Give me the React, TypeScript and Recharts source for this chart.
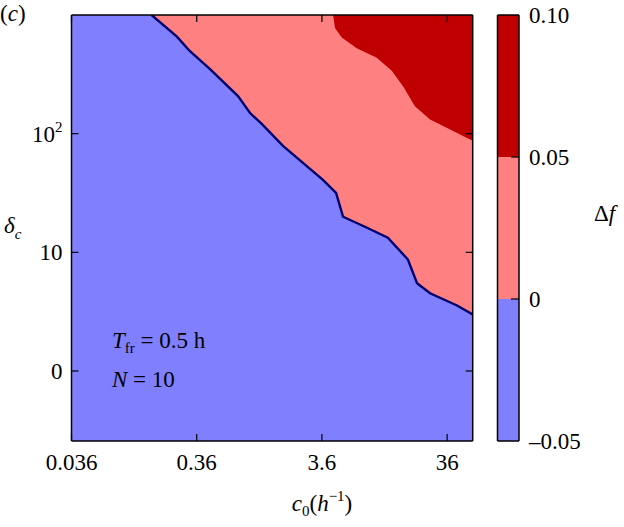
import React from 'react';
import { ComposedChart, Area, XAxis, YAxis, CartesianGrid } from 'recharts';

// axis ticks
const xTicks = [0.036, 0.36, 3.6, 36];
const yTicks = [0, 1, 2];
const yTickLabels = ['0', '10', '10^2'];

// contour Δf = 0 (blue / pink boundary)
const zeroC = [0.157, 0.249, 0.318, 0.46, 0.769, 0.96, 1.19, 1.76, 2.54, 3.67, 4.67, 5.31, 8.25, 12.1, 17.5, 20.7, 26.3, 43.2, 57.6];
const zeroY = [3.0, 2.82, 2.695, 2.544, 2.317, 2.174, 2.082, 1.897, 1.754, 1.61, 1.5, 1.3, 1.207, 1.124, 0.939, 0.739, 0.655, 0.552, 0.476];

// contour Δf = 0.05 (pink / dark red boundary)
const upperC = [4.42, 4.58, 5.18, 6.83, 9.87, 13.0, 16.0, 19.9, 26.3, 35.7, 48.2, 57.6];
const upperY = [3.0, 2.89, 2.81, 2.72, 2.64, 2.53, 2.4, 2.23, 2.12, 2.05, 1.98, 1.94];

// colour bar
const levels = [-0.05, 0, 0.05, 0.1];
const levelLabels = ['\u20130.05', '0', '0.05', '0.10'];
const levelColors = ['#8080ff', '#ff8080', '#c00000'];

const data = [
  ...zeroC.map((c, i) => ({ c, zero: zeroY[i] })),
  ...upperC.map((c, i) => ({ c, upper: upperY[i] })),
].sort((a, b) => a.c - b.c);

const cbData = [{ x: 0 }, { x: 1 }];

const FONT = '"Liberation Serif", "Times New Roman", serif';
const FS = 23;
const SUB = 15;
const txt = { fontFamily: FONT, fontSize: FS };

const BottomTick = (props: any) => {
  const { x, y, payload } = props;
  return (
    <g>
      <line x1={x} y1={y} x2={x} y2={y - 7} stroke="#000" strokeWidth={1.2} />
      <text x={x} y={y + 29} textAnchor="middle" style={txt} fill="#000">
        {payload.value}
      </text>
    </g>
  );
};

const TopTick = (props: any) => {
  const { x, y } = props;
  return <line x1={x} y1={y} x2={x} y2={y + 7} stroke="#000" strokeWidth={1.2} />;
};

const LeftTick = (props: any) => {
  const { x, y, payload } = props;
  const lbl = yTickLabels[yTicks.indexOf(payload.value)] ?? '';
  const sup = lbl.includes('^');
  return (
    <g>
      <line x1={x} y1={y} x2={x + 7} y2={y} stroke="#000" strokeWidth={1.2} />
      <text x={x - 9} y={y + 8} textAnchor="end" style={txt} fill="#000">
        {sup ? lbl.split('^')[0] : lbl}
        {sup && (
          <tspan dy={-10} style={{ fontSize: SUB }}>
            {lbl.split('^')[1]}
          </tspan>
        )}
      </text>
    </g>
  );
};

const RightTick = (props: any) => {
  const { x, y } = props;
  return <line x1={x} y1={y} x2={x - 7} y2={y} stroke="#000" strokeWidth={1.2} />;
};

const BarTick = (props: any) => {
  const { x, y, payload } = props;
  const i = levels.indexOf(payload.value);
  return (
    <g>
      {i > 0 && i < levels.length - 1 && (
        <line x1={x} y1={y} x2={x - 8} y2={y} stroke="#000" strokeWidth={1.2} />
      )}
      <text x={x + 10} y={y + 8} textAnchor="start" style={txt} fill="#000">
        {levelLabels[i]}
      </text>
    </g>
  );
};

const axisLine = { stroke: '#000', strokeWidth: 1.5 };

export default function App() {
  return (
    <div style={{ position: 'absolute', left: 0, top: 0, width: 624, height: 527, background: '#fff' }}>
      <div style={{ position: 'absolute', left: 0, top: 0 }}>
        <ComposedChart
          width={624}
          height={527}
          data={data}
          margin={{ top: 14, left: 70.5, right: 150.3, bottom: 85 }}
        >
          <CartesianGrid fill="#8080ff" fillOpacity={1} horizontal={false} vertical={false} />
          <Area
            dataKey="zero"
            type="linear"
            baseValue="dataMax"
            connectNulls
            fill="#ff8080"
            fillOpacity={1}
            stroke="#00006e"
            strokeWidth={2.4}
            dot={false}
            activeDot={false}
            isAnimationActive={false}
          />
          <Area
            dataKey="upper"
            type="linear"
            baseValue="dataMax"
            connectNulls
            fill="#c00000"
            fillOpacity={1}
            stroke="none"
            dot={false}
            activeDot={false}
            isAnimationActive={false}
          />
          <XAxis
            type="number"
            dataKey="c"
            scale="log"
            domain={[0.036, 57.6]}
            allowDataOverflow
            ticks={xTicks}
            height={1}
            tickSize={0}
            tickMargin={0}
            tickLine={false}
            axisLine={axisLine}
            tick={<BottomTick />}
            interval={0}
          />
          <XAxis
            xAxisId="top"
            orientation="top"
            type="number"
            dataKey="c"
            scale="log"
            domain={[0.036, 57.6]}
            allowDataOverflow
            ticks={xTicks}
            height={1}
            tickSize={0}
            tickMargin={0}
            tickLine={false}
            axisLine={axisLine}
            tick={<TopTick />}
            interval={0}
          />
          <YAxis
            type="number"
            domain={[-0.59, 3]}
            allowDataOverflow
            ticks={yTicks}
            width={1}
            tickSize={0}
            tickMargin={0}
            tickLine={false}
            axisLine={axisLine}
            tick={<LeftTick />}
            interval={0}
          />
          <YAxis
            yAxisId="right"
            orientation="right"
            type="number"
            domain={[-0.59, 3]}
            allowDataOverflow
            ticks={yTicks}
            width={1}
            tickSize={0}
            tickMargin={0}
            tickLine={false}
            axisLine={axisLine}
            tick={<RightTick />}
            interval={0}
          />
        </ComposedChart>
      </div>

      <div style={{ position: 'absolute', left: 0, top: 0 }}>
        <ComposedChart
          width={624}
          height={527}
          data={cbData}
          margin={{ top: 14, left: 496.5, right: 104, bottom: 85 }}
        >
          {levelColors.map((col, i) => (
            <Area
              key={col}
              yAxisId="right"
              dataKey={() => [levels[i], levels[i + 1]]}
              type="linear"
              fill={col}
              fillOpacity={1}
              stroke="none"
              dot={false}
              activeDot={false}
              isAnimationActive={false}
            />
          ))}
          <XAxis type="number" dataKey="x" domain={[0, 1]} allowDataOverflow height={1} tick={false} tickLine={false} axisLine={axisLine} />
          <XAxis xAxisId="top" orientation="top" type="number" dataKey="x" domain={[0, 1]} allowDataOverflow height={1} tick={false} tickLine={false} axisLine={axisLine} />
          <YAxis type="number" domain={[-0.05, 0.1]} allowDataOverflow width={1} tick={false} tickLine={false} axisLine={axisLine} />
          <YAxis
            yAxisId="right"
            orientation="right"
            type="number"
            domain={[-0.05, 0.1]}
            allowDataOverflow
            ticks={levels}
            width={1}
            tickSize={0}
            tickMargin={0}
            tickLine={false}
            axisLine={axisLine}
            tick={<BarTick />}
            interval={0}
          />
        </ComposedChart>
      </div>

      <svg
        width={624}
        height={527}
        style={{ position: 'absolute', left: 0, top: 0, pointerEvents: 'none', ...txt }}
        fill="#000"
      >
        <text x={0} y={21}>
          (<tspan fontStyle="italic">c</tspan>)
        </text>
        <text x={4} y={233}>
          <tspan fontStyle="italic">δ</tspan>
          <tspan fontStyle="italic" style={{ fontSize: SUB }} dy={6}>c</tspan>
        </text>
        <text x={322} y={511} textAnchor="middle">
          <tspan fontStyle="italic">c</tspan>
          <tspan style={{ fontSize: SUB }} dy={5}>0</tspan>
          <tspan dy={-5}>(</tspan>
          <tspan fontStyle="italic">h</tspan>
          <tspan style={{ fontSize: SUB }} dy={-10}>−1</tspan>
          <tspan dy={10}>)</tspan>
        </text>
        <text x={594} y={221}>
          Δ<tspan fontStyle="italic">f</tspan>
        </text>
        <text x={112} y={348}>
          <tspan fontStyle="italic">T</tspan>
          <tspan style={{ fontSize: SUB }} dy={5}>fr</tspan>
          <tspan dy={-5}> = 0.5 h</tspan>
        </text>
        <text x={112} y={387}>
          <tspan fontStyle="italic">N</tspan> = 10
        </text>
      </svg>
    </div>
  );
}
